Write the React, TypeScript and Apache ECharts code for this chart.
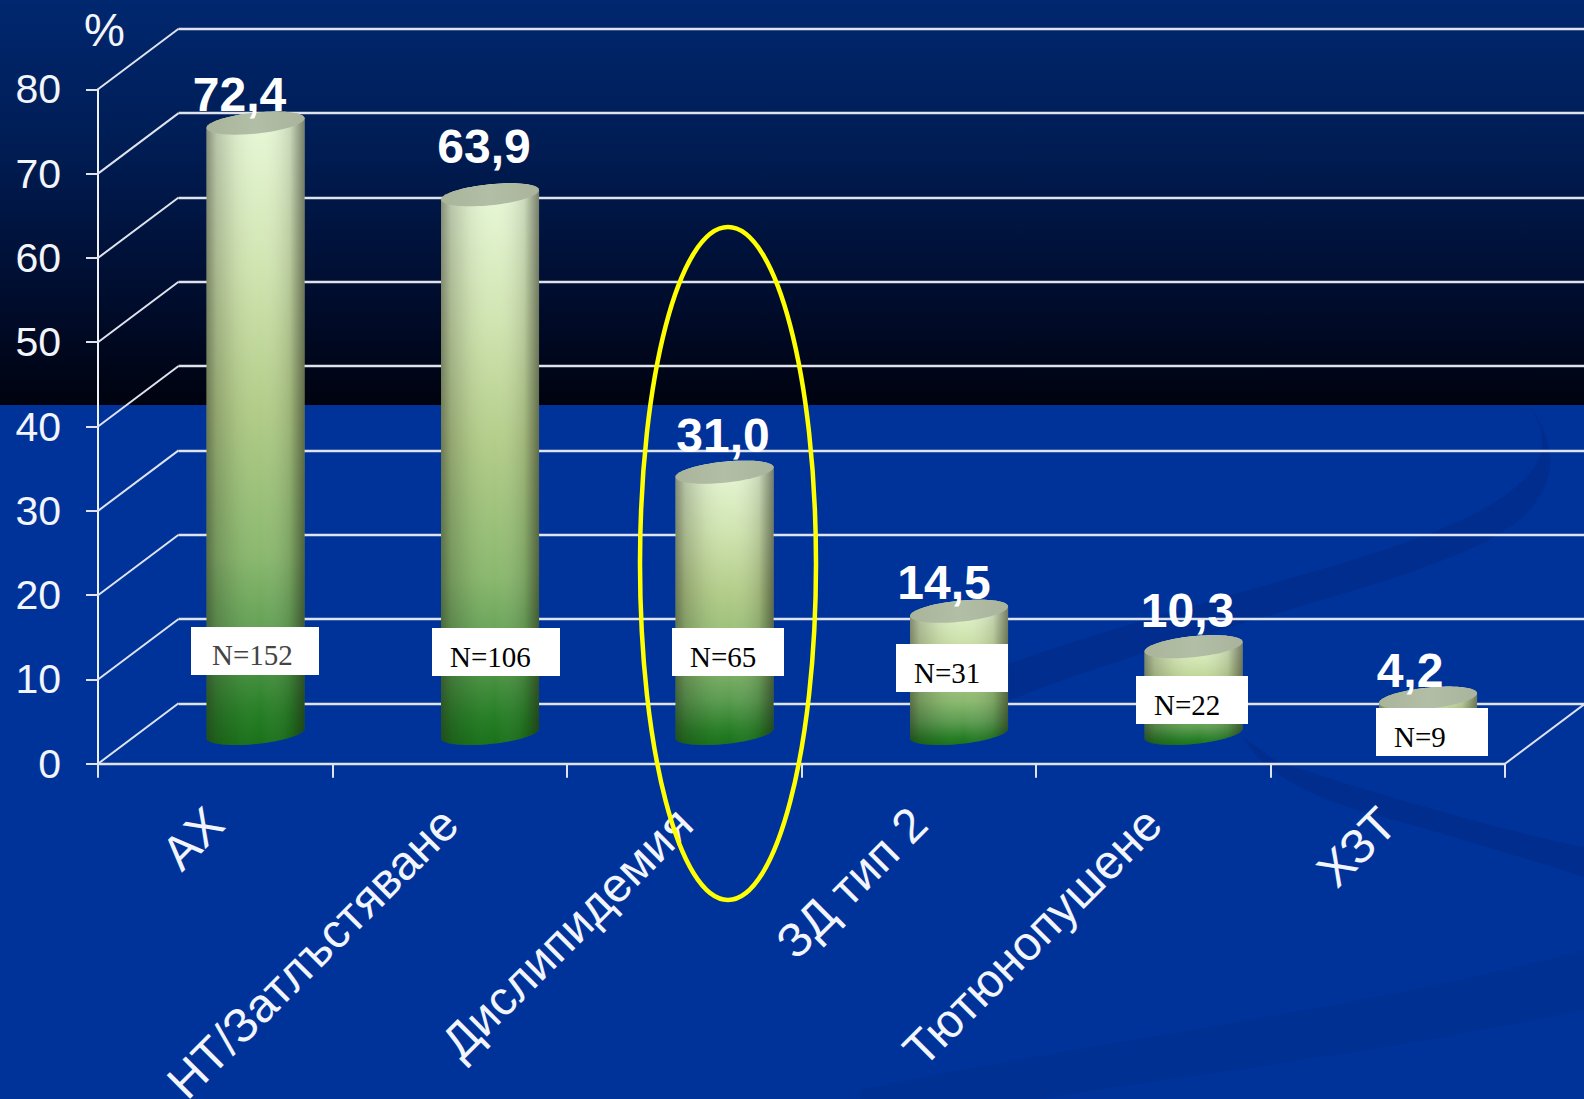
import React, { useEffect, useRef } from "react";
import * as echarts from "echarts";

// Risk factor shares, per cent of patients, with the group size of each factor
const categories = ["АХ", "НТ/Затлъстяване", "Дислипидемия", "ЗД тип 2", "Тютюнопушене", "ХЗТ"];
const shares = [72.4, 63.9, 31.0, 14.5, 10.3, 4.2];
const groupSizes = [152, 106, 65, 31, 22, 9];
const valueTicks = [0, 10, 20, 30, 40, 50, 60, 70, 80];

// Hand-placed value captions, relative to the centre of each cylinder's lid: [dx, dy to baseline]
const captionOffsets = [[-16, -12], [-6, -32], [-1.5, -20], [-15, -12], [-6, -20], [-18, -11]];
// Hand-placed group-size tags: [left, top, text left, text middle]
const tagBoxes = [
  [191, 627, 212, 655],
  [432, 628, 450, 657],
  [672, 628, 690, 657],
  [896, 644, 914, 673],
  [1136, 676, 1154, 705],
  [1376, 708, 1394, 737],
];

const SANS = '"Liberation Sans", Arial, sans-serif';
const SERIF = '"Liberation Serif", "Times New Roman", serif';
const DEPTH_X = 80.6;
const DEPTH_Y = -60.5;
const RADIUS_X = 49;
const RADIUS_Y = 10.5;
const SHEAR = 4.8;

const lightLine = "#dfe3ec";
const LINE_WIDTH = 2.4;

echarts.graphic.registerShape(
  "swooshMain",
  echarts.graphic.extendPath(
    "M1529 405C1556 440 1566 490 1506 530C1420 585 1200 625 1010 700L985 672C1180 600 1400 560 1490 505C1548 470 1552 440 1529 405Z",
    {}
  )
);
echarts.graphic.registerShape(
  "swooshLower",
  echarts.graphic.extendPath(
    "M1243 737C1262 775 1320 800 1368 813C1450 835 1530 860 1584 877L1584 847C1500 830 1360 790 1275 760Z",
    {}
  )
);
echarts.graphic.registerShape(
  "swooshFoot",
  echarts.graphic.extendPath(
    "M860 1090C1100 1040 1360 1010 1584 950L1584 1010C1340 1060 1180 1075 1040 1099L860 1099Z",
    {}
  )
);

// Upper rim and lower rim of a sheared ellipse, left to right
function rim(cx: number, cy: number, upper: boolean): number[][] {
  const pts: number[][] = [];
  for (let k = 0; k <= 40; k++) {
    const t = Math.PI * (1 - k / 40);
    const s = Math.sin(t) * (upper ? -1 : 1);
    pts.push([cx + RADIUS_X * Math.cos(t), cy + RADIUS_Y * s - SHEAR * Math.cos(t)]);
  }
  return pts;
}

const bodyFill = () =>
  new echarts.graphic.LinearGradient(0, 0, 0, 1, [
    { offset: 0, color: "#e9f9da" },
    { offset: 0.25, color: "#d0e4b0" },
    { offset: 0.47, color: "#b2cc88" },
    { offset: 0.7, color: "#8ab86e" },
    { offset: 0.84, color: "#5b9c50" },
    { offset: 0.95, color: "#257d24" },
    { offset: 1, color: "#187018" },
  ]);

const bodyShade = () =>
  new echarts.graphic.LinearGradient(0, 0, 1, 0, [
    { offset: 0, color: "rgba(40,40,30,0.5)" },
    { offset: 0.1, color: "rgba(40,40,30,0.24)" },
    { offset: 0.3, color: "rgba(60,60,50,0.07)" },
    { offset: 0.55, color: "rgba(255,255,255,0)" },
    { offset: 0.85, color: "rgba(30,30,20,0.14)" },
    { offset: 1, color: "rgba(30,30,20,0.55)" },
  ]);

const lidFill = () =>
  new echarts.graphic.LinearGradient(0, 0, 1, 0, [
    { offset: 0, color: "#a9b49b" },
    { offset: 0.5, color: "#b3bea6" },
    { offset: 1, color: "#aab49c" },
  ]);

function renderWallLink(params: any, api: any) {
  const left = params.coordSys.x;
  const right = left + params.coordSys.width;
  const y = api.coord([0, api.value(1)])[1];
  const link = (x: number) => ({
    type: "line",
    shape: { x1: x, y1: y, x2: x + DEPTH_X, y2: y + DEPTH_Y },
    style: { stroke: lightLine, lineWidth: 2 },
  });
  const children = [link(left)];
  if (api.value(1) === 0) children.push(link(right));
  return { type: "group", children };
}

function renderCylinder(params: any, api: any) {
  const i = api.value(0);
  const cx = api.coord([i, 0])[0] + DEPTH_X / 2;
  const baseY = api.coord([i, 0])[1] + DEPTH_Y / 2;
  const topY = api.coord([i, api.value(1)])[1] + DEPTH_Y / 2;
  const outline = [...rim(cx, topY, true), ...rim(cx, baseY, false).reverse()];
  const lid = [...rim(cx, topY, true), ...rim(cx, topY, false).reverse()];
  const [dx, dy] = captionOffsets[i];
  return {
    type: "group",
    children: [
      { type: "polygon", shape: { points: outline }, style: { fill: bodyFill() } },
      { type: "polygon", shape: { points: outline }, style: { fill: bodyShade() } },
      { type: "polygon", shape: { points: lid }, style: { fill: lidFill() } },
      {
        type: "text",
        style: {
          text: shares[i].toFixed(1).replace(".", ","),
          x: cx + dx,
          y: topY + dy - 16.5,
          fill: "#ffffff",
          fontFamily: SANS,
          fontSize: 48,
          fontWeight: "bold",
          textAlign: "center",
          textVerticalAlign: "middle",
        },
      },
    ],
  };
}

export default function App() {
  const ref = useRef<HTMLDivElement>(null);

  useEffect(() => {
    document.body.style.margin = "0";
    document.body.style.overflow = "hidden";
    const chart = echarts.init(ref.current!, undefined, { renderer: "svg" });

    const swoosh = (type: string, fill: string) => ({
      type,
      x: 0,
      y: 0,
      z: -5,
      silent: true,
      style: { fill },
    });

    const tags = tagBoxes.flatMap(([left, top, textLeft, textMiddle], i) => [
      {
        type: "rect",
        z: 20,
        shape: { x: left, y: top, width: i < 2 ? 128 : 112, height: 48 },
        style: { fill: "#ffffff" },
      },
      {
        type: "text",
        z: 21,
        x: textLeft,
        y: textMiddle,
        style: {
          text: `N=${groupSizes[i]}`,
          fill: i === 0 ? "#444444" : "#000000",
          fontFamily: SERIF,
          fontSize: 29,
          textAlign: "left",
          textVerticalAlign: "middle",
        },
      },
    ]);

    chart.setOption({
      animation: false,
      backgroundColor: "#00339a",
      grid: [
        { left: 98, top: 89.3, width: 1407, height: 674.5, outerBoundsMode: "none" },
        { left: 178.6, top: 28.8, width: 1405.4, height: 674.5, outerBoundsMode: "none" },
      ],
      xAxis: [
        {
          type: "category",
          gridIndex: 0,
          data: categories,
          axisLine: { lineStyle: { color: lightLine, width: LINE_WIDTH } },
          axisTick: { show: true, length: 14, alignWithLabel: false, lineStyle: { color: lightLine, width: 2 } },
          axisLabel: {
            rotate: 45,
            interval: 0,
            margin: 52,
            color: "#f2f5fb",
            fontFamily: SANS,
            fontSize: 48,
            hideOverlap: false,
          },
        },
        { type: "category", gridIndex: 1, data: categories, show: false },
      ],
      yAxis: [
        {
          type: "value",
          gridIndex: 0,
          min: 0,
          max: 80,
          interval: 10,
          axisLine: { show: true, lineStyle: { color: "#f0f2f7", width: 2 } },
          axisTick: { show: true, length: 12, lineStyle: { color: lightLine, width: 2 } },
          axisLabel: { margin: 37, color: "#f2f5fb", fontFamily: SANS, fontSize: 41 },
          splitLine: { show: false },
        },
        {
          type: "value",
          gridIndex: 1,
          min: 0,
          max: 80,
          interval: 10,
          axisLine: { show: false },
          axisTick: { show: false },
          axisLabel: { show: false },
          splitLine: { show: true, lineStyle: { color: lightLine, width: LINE_WIDTH } },
        },
      ],
      series: [
        {
          type: "custom",
          xAxisIndex: 0,
          yAxisIndex: 0,
          clip: false,
          z: 1,
          silent: true,
          data: valueTicks.map((v) => [0, v]),
          encode: { x: 0, y: 1 },
          renderItem: renderWallLink,
        },
        {
          type: "custom",
          xAxisIndex: 0,
          yAxisIndex: 0,
          clip: false,
          z: 5,
          silent: true,
          data: shares.map((v, i) => [i, v]),
          encode: { x: 0, y: 1 },
          renderItem: renderCylinder,
        },
      ],
      graphic: {
        elements: [
          {
            type: "rect",
            z: -10,
            silent: true,
            shape: { x: 0, y: 0, width: 1584, height: 405 },
            style: {
              fill: new echarts.graphic.LinearGradient(0, 0, 0, 1, [
                { offset: 0, color: "#00276f" },
                { offset: 0.35, color: "#001d55" },
                { offset: 0.75, color: "#000c2c" },
                { offset: 1, color: "#00030f" },
              ]),
            },
          },
          swoosh("swooshMain", "#012e8e"),
          swoosh("swooshLower", "#012e8e"),
          swoosh("swooshFoot", "#013093"),
          ...tags,
          {
            type: "text",
            z: 21,
            x: 104.5,
            y: 30,
            style: {
              text: "%",
              fill: "#f2f5fb",
              fontFamily: SANS,
              fontSize: 46,
              textAlign: "center",
              textVerticalAlign: "middle",
            },
          },
          {
            type: "ellipse",
            z: 30,
            silent: true,
            shape: { cx: 728, cy: 563.5, rx: 88, ry: 336.5 },
            style: { fill: "none", stroke: "#ffff00", lineWidth: 4.5 },
          },
        ],
      },
    });

    return () => chart.dispose();
  }, []);

  return (
    <div
      ref={ref}
      style={{ position: "absolute", left: 0, top: 0, width: 1584, height: 1099 }}
    />
  );
}
